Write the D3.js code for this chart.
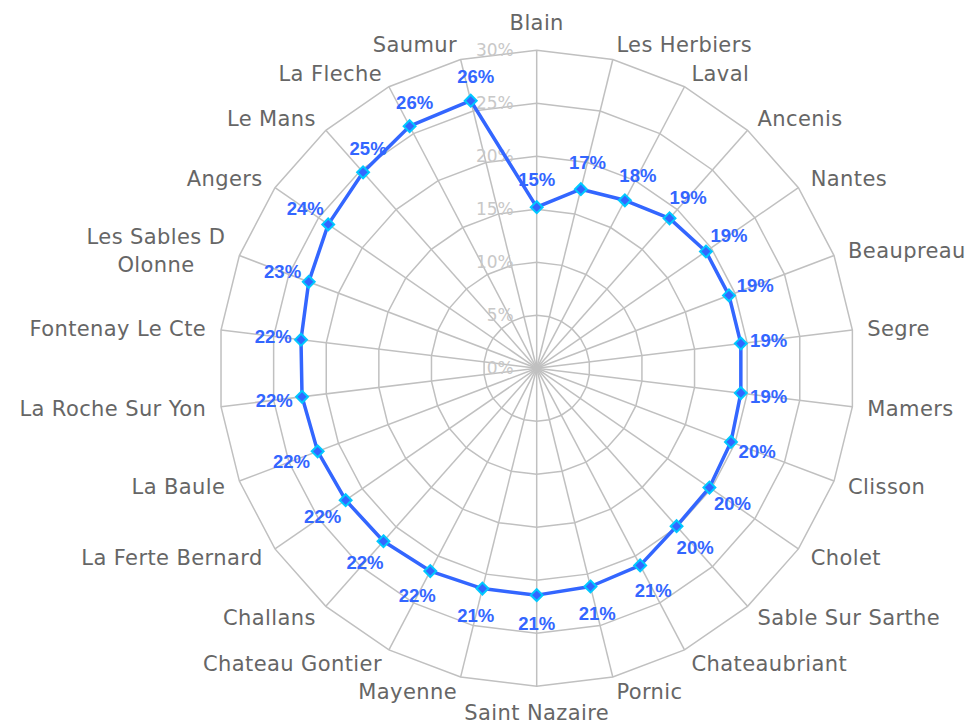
<!DOCTYPE html>
<html lang="fr">
<head>
  <meta charset="UTF-8">
  <title>Radar</title>
  <style>
    body { margin: 0; background: #fff; }
    svg { display: block; }
    .cat { font: 21px "DejaVu Sans", Verdana, sans-serif; fill: #666; letter-spacing: 0.4px; }
    .tick { font: 17px "DejaVu Sans", Verdana, sans-serif; fill: #c8c8c8; }
    .val { font: bold 18.5px "Liberation Sans", Arial, sans-serif; fill: #3366ff; }
  </style>
</head>
<body>
  <svg width="967" height="726"></svg>
  <script src="https://d3js.org/d3.v7.min.js"></script>
  <script>
    // villes (sens horaire depuis le haut)
    const cities = ["Blain", "Les Herbiers", "Laval", "Ancenis", "Nantes", "Beaupreau", "Segre",
      "Mamers", "Clisson", "Cholet", "Sable Sur Sarthe", "Chateaubriant", "Pornic", "Saint Nazaire",
      "Mayenne", "Chateau Gontier", "Challans", "La Ferte Bernard", "La Baule", "La Roche Sur Yon",
      "Fontenay Le Cte", "Les Sables D Olonne", "Angers", "Le Mans", "La Fleche", "Saumur"];
    // valeurs en %
    const values = [15.2, 17.4, 17.9, 18.9, 19.4, 19.4, 19.4, 19.4, 19.6, 19.8, 19.9, 21.0, 21.2,
      21.4, 21.4, 21.6, 21.8, 21.9, 22.1, 22.3, 22.4, 23.0, 23.9, 24.7, 25.8, 26.0];
    const ticks = [0, 5, 10, 15, 20, 25, 30];

    const cx = 536.7, cy = 368.3;
    const svg = d3.select("svg");
    const g = svg.append("g").attr("transform", `translate(${cx},${cy})`);

    const r = d3.scaleLinear().domain([0, 30]).range([0, 318]);
    const n = cities.length;
    const ang = d3.scaleLinear().domain([0, n]).range([0, 2 * Math.PI]);
    const px = (a, rad) => rad * Math.sin(a);
    const py = (a, rad) => -rad * Math.cos(a);

    // anneaux polygonaux
    const ring = d3.lineRadial().angle((d, i) => ang(i)).radius(d => r(d)).curve(d3.curveLinearClosed);
    g.append("g").selectAll("path")
      .data(ticks.filter(t => t > 0))
      .enter().append("path")
      .attr("d", t => ring(cities.map(() => t)))
      .attr("fill", "none")
      .attr("stroke", "#c0c0c0")
      .attr("stroke-width", 1.5);

    // rayons
    g.append("g").selectAll("line")
      .data(cities)
      .enter().append("line")
      .attr("x1", 0).attr("y1", 0)
      .attr("x2", (d, i) => px(ang(i), r(30)))
      .attr("y2", (d, i) => py(ang(i), r(30)))
      .attr("stroke", "#c0c0c0")
      .attr("stroke-width", 1.5);

    // graduations
    g.append("g").selectAll("text")
      .data(ticks)
      .enter().append("text")
      .attr("class", "tick")
      .attr("x", -23)
      .attr("y", t => -r(t))
      .attr("dy", "0.35em")
      .attr("text-anchor", "end")
      .text(t => t + "%");

    // libellés des villes
    g.append("g").selectAll("text")
      .data(cities)
      .enter().append("text")
      .attr("class", "cat")
      .each(function(d, i) {
        const a = ang(i);
        const x = px(a, r(30) + 15), y = py(a, r(30) + 15);
        const t = d3.select(this).attr("x", x).attr("y", y);
        const s = Math.sin(a);
        let lines = [d];
        if (d.length > 16) {
          const k = d.lastIndexOf(" ");
          lines = [d.slice(0, k), d.slice(k + 1)];
        }
        if (Math.abs(s) < 1e-6) {
          t.attr("text-anchor", "middle").attr("dy", Math.cos(a) > 0 ? -5 : 19).text(d);
          return;
        }
        t.attr("text-anchor", s > 0 ? "start" : "end");
        if (lines.length === 1) {
          t.attr("dy", "0.35em").text(d);
        } else {
          // bloc centré, lignes centrées dans le bloc
          const tmp = lines.map(l => {
            const e = t.append("tspan").text(l);
            const w = e.node().getComputedTextLength();
            e.remove();
            return w;
          });
          const wmax = d3.max(tmp);
          const mid = s > 0 ? x + wmax / 2 : x - wmax / 2;
          t.attr("text-anchor", "middle");
          lines.forEach((l, j) => {
            t.append("tspan")
              .attr("x", mid)
              .attr("y", y + (j - (lines.length - 1) / 2) * 28)
              .attr("dy", "0.35em")
              .text(l);
          });
        }
      });

    // série
    const pts = values.map((v, i) => [px(ang(i), r(v)), py(ang(i), r(v))]);
    g.append("path")
      .attr("d", d3.line().curve(d3.curveLinearClosed)(pts))
      .attr("fill", "none")
      .attr("stroke", "#3366ff")
      .attr("stroke-width", 3.5)
      .attr("stroke-linejoin", "round");

    g.append("g").selectAll("path")
      .data(pts)
      .enter().append("path")
      .attr("d", d3.symbol().type(d3.symbolDiamond2).size(90))
      .attr("transform", d => `translate(${d[0]},${d[1]})`)
      .attr("fill", "#3366ff")
      .attr("stroke", "#00c8ff")
      .attr("stroke-width", 2);

    // étiquettes de valeurs
    g.append("g").selectAll("text")
      .data(values)
      .enter().append("text")
      .attr("class", "val")
      .attr("text-anchor", "middle")
      .attr("dy", "0.35em")
      .attr("x", (v, i) => {
        const a = ang(i);
        return a > 1.75 * Math.PI ? pts[i][0] + 5 : px(a, r(v) + 28);
      })
      .attr("y", (v, i) => {
        const a = ang(i);
        return a > 1.75 * Math.PI ? pts[i][1] - 24 : py(a, r(v) + 28);
      })
      .text(v => Math.round(v) + "%");
  </script>
</body>
</html>
